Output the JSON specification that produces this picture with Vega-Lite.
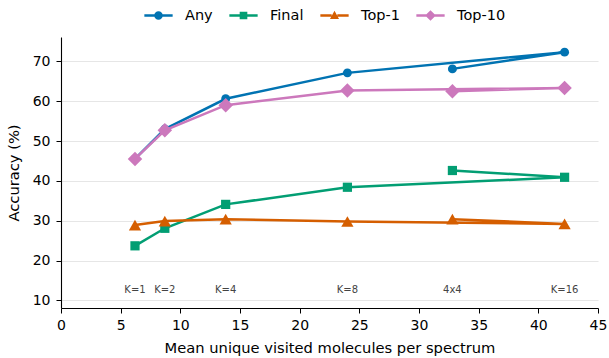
{
  "$schema": "https://vega.github.io/schema/vega-lite/v6.json",
  "width": 537,
  "height": 271,
  "autosize": {"type": "none"},
  "padding": {"left": 61, "top": 37, "right": 11, "bottom": 50},
  "background": "white",
  "config": {
    "view": {"stroke": null},
    "font": "DejaVu Sans",
    "axis": {"labelFont": "DejaVu Sans", "titleFont": "DejaVu Sans", "labelColor": "black", "titleColor": "black", "domainColor": "black", "tickColor": "black", "labelFontSize": 14, "titleFontSize": 14.7, "titleFontWeight": "normal", "tickSize": 5, "domainWidth": 1.1, "labelFlush": false, "labelPadding": 5}
  },
  "data": {
    "values": [
      {"series": "Any", "config": "K=1", "x": 6.2, "acc": 45.5, "ord": 1},
      {"series": "Any", "config": "K=2", "x": 8.7, "acc": 53.0, "ord": 2},
      {"series": "Any", "config": "K=4", "x": 13.8, "acc": 60.6, "ord": 3},
      {"series": "Any", "config": "K=8", "x": 24.0, "acc": 67.1, "ord": 4},
      {"series": "Any", "config": "K=16", "x": 42.2, "acc": 72.3, "ord": 5},
      {"series": "Any", "config": "4x4", "x": 32.8, "acc": 68.1, "ord": 6},
      {"series": "Final", "config": "K=1", "x": 6.2, "acc": 23.7, "ord": 1},
      {"series": "Final", "config": "K=2", "x": 8.7, "acc": 28.1, "ord": 2},
      {"series": "Final", "config": "K=4", "x": 13.8, "acc": 34.1, "ord": 3},
      {"series": "Final", "config": "K=8", "x": 24.0, "acc": 38.4, "ord": 4},
      {"series": "Final", "config": "K=16", "x": 42.2, "acc": 40.9, "ord": 5},
      {"series": "Final", "config": "4x4", "x": 32.8, "acc": 42.6, "ord": 6},
      {"series": "Top-1", "config": "K=1", "x": 6.2, "acc": 28.9, "ord": 1},
      {"series": "Top-1", "config": "K=2", "x": 8.7, "acc": 29.9, "ord": 2},
      {"series": "Top-1", "config": "K=4", "x": 13.8, "acc": 30.4, "ord": 3},
      {"series": "Top-1", "config": "K=8", "x": 24.0, "acc": 29.8, "ord": 4},
      {"series": "Top-1", "config": "K=16", "x": 42.2, "acc": 29.2, "ord": 5},
      {"series": "Top-1", "config": "4x4", "x": 32.8, "acc": 30.4, "ord": 6},
      {"series": "Top-10", "config": "K=1", "x": 6.2, "acc": 45.5, "ord": 1},
      {"series": "Top-10", "config": "K=2", "x": 8.7, "acc": 52.7, "ord": 2},
      {"series": "Top-10", "config": "K=4", "x": 13.8, "acc": 59.0, "ord": 3},
      {"series": "Top-10", "config": "K=8", "x": 24.0, "acc": 62.7, "ord": 4},
      {"series": "Top-10", "config": "K=16", "x": 42.2, "acc": 63.3, "ord": 5},
      {"series": "Top-10", "config": "4x4", "x": 32.8, "acc": 62.5, "ord": 6}
    ]
  },
  "encoding": {
    "x": {"field": "x", "type": "quantitative", "scale": {"domain": [0, 45], "nice": false, "zero": false}, "axis": {"values": [0,5,10,15,20,25,30,35,40,45], "grid": false, "title": "Mean unique visited molecules per spectrum", "titlePadding": 8}},
    "y": {"field": "acc", "type": "quantitative", "scale": {"domain": [8.1, 76.1], "nice": false, "zero": false}, "axis": {"values": [10,20,30,40,50,60,70], "grid": true, "gridColor": "#e6e6e6", "gridWidth": 1.1, "title": "Accuracy (%)", "titlePadding": 11, "labelPadding": 6}}
  },
  "layer": [
    {
      "mark": {"type": "line", "strokeWidth": 2.5},
      "encoding": {
        "order": {"field": "ord", "type": "quantitative"},
        "color": {"field": "series", "type": "nominal", "scale": {"domain": ["Any","Final","Top-1","Top-10"], "range": ["#0173b2","#029e73","#d55e00","#cc78bc"]}, "legend": null}
      }
    },
    {
      "mark": {"type": "point", "filled": true, "opacity": 1},
      "encoding": {
        "color": {"field": "series", "type": "nominal", "scale": {"domain": ["Any","Final","Top-1","Top-10"], "range": ["#0173b2","#029e73","#d55e00","#cc78bc"]}, "legend": null},
        "shape": {"field": "series", "type": "nominal", "scale": {"domain": ["Any","Final","Top-1","Top-10"], "range": ["circle","square","triangle-up","diamond"]}, "legend": null},
        "size": {"field": "series", "type": "ordinal", "scale": {"type": "ordinal", "domain": ["Any","Final","Top-1","Top-10"], "range": [80, 85, 150, 210]}, "legend": null}
      }
    },
    {
      "transform": [{"filter": "datum.series == 'Any'"}],
      "mark": {"type": "text", "fontSize": 10, "fill": "#444444", "baseline": "middle"},
      "encoding": {"y": {"datum": 12.5}, "text": {"field": "config"}}
    },
    {
      "transform": [{"filter": "datum.ord > 100"}],
      "mark": {"type": "point", "filled": true, "opacity": 1},
      "encoding": {
        "color": {"field": "series", "type": "nominal", "scale": {"domain": ["Any","Final","Top-1","Top-10"], "range": ["#0173b2","#029e73","#d55e00","#cc78bc"]}, "legend": {"orient": "none", "legendX": 83, "legendY": -36, "direction": "horizontal", "title": null, "labelFontSize": 14.5, "labelFont": "DejaVu Sans", "labelColor": "black", "symbolSize": 800, "symbolStrokeWidth": 0, "columnPadding": 16, "labelOffset": 12, "symbolOpacity": 1}},
        "shape": {"field": "series", "type": "nominal", "scale": {"domain": ["Any","Final","Top-1","Top-10"], "range": [
          "M-1,-0.08H-0.2V0.08H-1Z M0.2,-0.08H1V0.08H0.2Z M0.3,0 A0.3,0.3 0 1,1 -0.3,0 A0.3,0.3 0 1,1 0.3,0Z",
          "M-1,-0.08H-0.2V0.08H-1Z M0.2,-0.08H1V0.08H0.2Z M-0.27,-0.27H0.27V0.27H-0.27Z",
          "M-1,-0.08H-0.2V0.08H-1Z M0.2,-0.08H1V0.08H0.2Z M0,-0.34L0.32,0.24H-0.32Z",
          "M-1,-0.08H-0.2V0.08H-1Z M0.2,-0.08H1V0.08H0.2Z M0,-0.38L0.38,0L0,0.38L-0.38,0Z"
        ]}, "legend": {"orient": "none", "legendX": 83, "legendY": -36, "direction": "horizontal", "title": null, "labelFontSize": 14.5, "labelFont": "DejaVu Sans", "labelColor": "black", "symbolSize": 800, "symbolStrokeWidth": 0, "columnPadding": 16, "labelOffset": 12, "symbolOpacity": 1}}
      }
    }
  ],
  "resolve": {"scale": {"shape": "independent", "color": "independent", "size": "independent"}, "legend": {"color": "independent", "shape": "independent"}}
}
